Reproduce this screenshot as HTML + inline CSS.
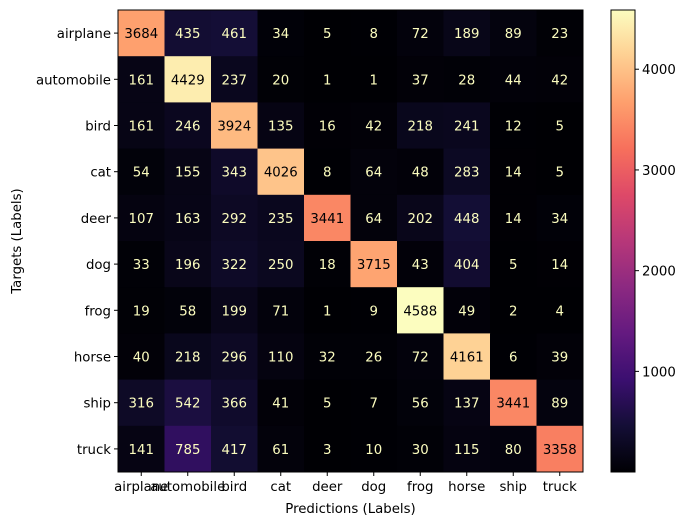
<!DOCTYPE html>
<html><head><meta charset="utf-8"><style>
body{margin:0;background:#fff;}
svg text{font-family:"DejaVu Sans","Liberation Sans",sans-serif;}
</style></head><body>
<svg id="chart" width="689" height="525" xmlns="http://www.w3.org/2000/svg"></svg>
<script>
const classes=["airplane","automobile","bird","cat","deer","dog","frog","horse","ship","truck"];
const row0=[3684,435,461,34,5,8,72,189,89,23];
const row1=[161,4429,237,20,1,1,37,28,44,42];
const row2=[161,246,3924,135,16,42,218,241,12,5];
const row3=[54,155,343,4026,8,64,48,283,14,5];
const row4=[107,163,292,235,3441,64,202,448,14,34];
const row5=[33,196,322,250,18,3715,43,404,5,14];
const row6=[19,58,199,71,1,9,4588,49,2,4];
const row7=[40,218,296,110,32,26,72,4161,6,39];
const row8=[316,542,366,41,5,7,56,137,3441,89];
const row9=[141,785,417,61,3,10,30,115,80,3358];
const cbTicks=[1000,2000,3000,4000];
const rows=[row0,row1,row2,row3,row4,row5,row6,row7,row8,row9];

const NS="http://www.w3.org/2000/svg";
const svg=document.getElementById('chart');
function el(t,a,p){const e=document.createElementNS(NS,t);for(const k in a)e.setAttribute(k,a[k]);(p||svg).appendChild(e);return e;}
const L=118,T=10,W=465,H=462,n=classes.length,cw=W/n,ch=H/n,FS='13.3';
const all=rows.flat();const vmin=Math.min(...all),vmax=Math.max(...all);
const stops=["#000004","#140e36","#3b0f70","#641a80","#8c2981","#b73779","#de4968","#f7705c","#fe9f6d","#fecf92","#fcfdbf"];
function hex(h){return [1,3,5].map(i=>parseInt(h.substr(i,2),16));}
function magma(t){t=Math.max(0,Math.min(1,t));const s=t*10,i=Math.min(9,Math.floor(s)),f=s-i;const a=hex(stops[i]),b=hex(stops[i+1]);return `rgb(${a.map((v,k)=>Math.round(v+(b[k]-v)*f)).join(',')})`;}
const x=i=>L+i*cw, y=i=>T+i*ch;
const thr=(vmin+vmax)/2;
rows.forEach((r,i)=>r.forEach((v,j)=>{
  const c=el('rect',{x:x(j),y:y(i),width:cw+0.5,height:ch+0.5,fill:magma((v-vmin)/(vmax-vmin))});
  
  
  const t=el('text',{x:x(j)+cw/2,y:y(i)+ch/2+5,'text-anchor':'middle','font-size':FS,fill:v>=thr?'#000004':'#fcfdbf'});
  t.textContent=v;
  
  
}));
el('rect',{x:L,y:T,width:W,height:H,fill:'none',stroke:'#000','stroke-width':1});
classes.forEach((c,i)=>{
  el('line',{x1:x(i)+cw/2,x2:x(i)+cw/2,y1:T+H,y2:T+H+4,stroke:'#000'});
  const t=el('text',{x:x(i)+cw/2,y:T+H+19,'text-anchor':'middle','font-size':FS});t.textContent=c;
  
  
  el('line',{x1:L-4,x2:L,y1:y(i)+ch/2,y2:y(i)+ch/2,stroke:'#000'});
  const u=el('text',{x:L-7,y:y(i)+ch/2+5,'text-anchor':'end','font-size':FS});u.textContent=c;
  
  
});
const xl=el('text',{x:L+W/2,y:513,'text-anchor':'middle','font-size':FS});xl.textContent='Predictions (Labels)';


const yl=el('text',{x:0,y:0,'text-anchor':'middle','font-size':FS,transform:`translate(21,${T+H/2}) rotate(-90)`});yl.textContent='Targets (Labels)';


const CL=611,CW=24;
const defs=el('defs',{});const g=el('linearGradient',{id:'cg',x1:0,y1:1,x2:0,y2:0},defs);
for(let k=0;k<=10;k++)el('stop',{offset:k/10,'stop-color':stops[k]},g);
const cb=el('rect',{x:CL,y:T,width:CW,height:H,fill:'url(#cg)',stroke:'#000','stroke-width':1});


const cy=v=>T+H-(v-vmin)/(vmax-vmin)*H;
cbTicks.forEach(v=>{
  el('line',{x1:CL+CW,x2:CL+CW+4,y1:cy(v),y2:cy(v),stroke:'#000'});
  const t=el('text',{x:CL+CW+7,y:cy(v)+5,'font-size':FS});t.textContent=v;
  
  
});
</script>
</body></html>
